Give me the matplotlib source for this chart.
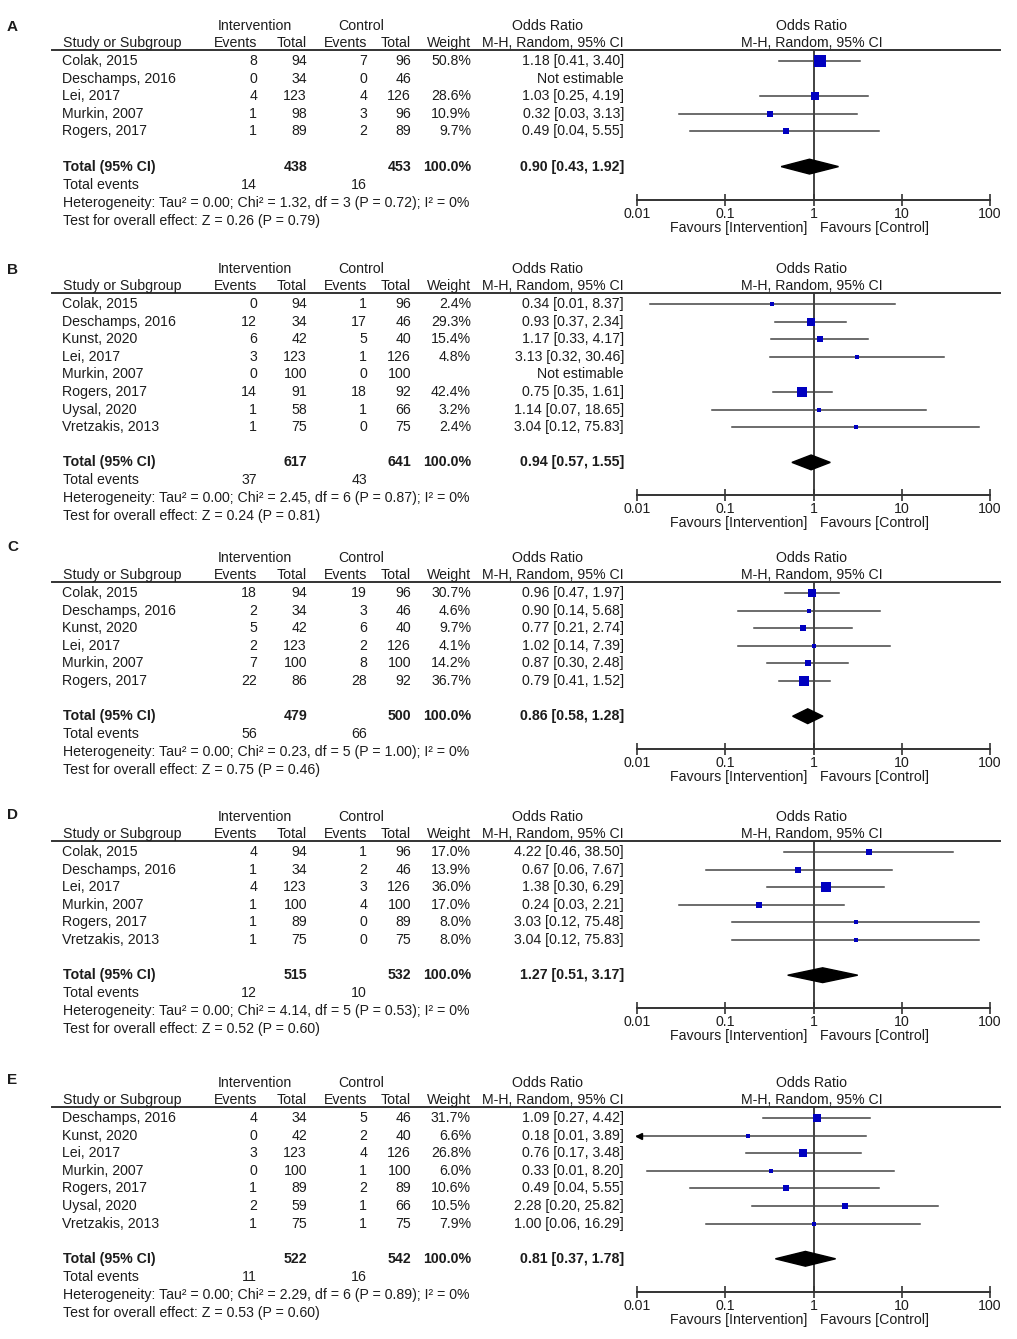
import numpy as np
import matplotlib
matplotlib.use('Agg')
import matplotlib.pyplot as plt

plt.rcParams['font.family'] = ['Liberation Sans', 'DejaVu Sans']

# ---------------- data ----------------
# panel A
a_studies = ['Colak, 2015', 'Deschamps, 2016', 'Lei, 2017', 'Murkin, 2007', 'Rogers, 2017']
a_int_ev = [8, 0, 4, 1, 1]
a_int_n = [94, 34, 123, 98, 89]
a_ctl_ev = [7, 0, 4, 3, 2]
a_ctl_n = [96, 46, 126, 96, 89]
a_weight = [50.8, None, 28.6, 10.9, 9.7]
a_or = [1.18, None, 1.03, 0.32, 0.49]
a_lo = [0.41, None, 0.25, 0.03, 0.04]
a_hi = [3.40, None, 4.19, 3.13, 5.55]
a_total = [438, 453, 0.90, 0.43, 1.92]
a_events = [14, 16]
a_het = ['0.00', '1.32', 3, '0.72', 0]
a_test = ['0.26', '0.79']

# panel B
b_studies = ['Colak, 2015', 'Deschamps, 2016', 'Kunst, 2020', 'Lei, 2017', 'Murkin, 2007',
             'Rogers, 2017', 'Uysal, 2020', 'Vretzakis, 2013']
b_int_ev = [0, 12, 6, 3, 0, 14, 1, 1]
b_int_n = [94, 34, 42, 123, 100, 91, 58, 75]
b_ctl_ev = [1, 17, 5, 1, 0, 18, 1, 0]
b_ctl_n = [96, 46, 40, 126, 100, 92, 66, 75]
b_weight = [2.4, 29.3, 15.4, 4.8, None, 42.4, 3.2, 2.4]
b_or = [0.34, 0.93, 1.17, 3.13, None, 0.75, 1.14, 3.04]
b_lo = [0.014, 0.37, 0.33, 0.32, None, 0.35, 0.07, 0.12]
b_hi = [8.37, 2.34, 4.17, 30.46, None, 1.61, 18.65, 75.83]
b_total = [617, 641, 0.94, 0.57, 1.55]
b_events = [37, 43]
b_het = ['0.00', '2.45', 6, '0.87', 0]
b_test = ['0.24', '0.81']

# panel C
c_studies = ['Colak, 2015', 'Deschamps, 2016', 'Kunst, 2020', 'Lei, 2017', 'Murkin, 2007',
             'Rogers, 2017']
c_int_ev = [18, 2, 5, 2, 7, 22]
c_int_n = [94, 34, 42, 123, 100, 86]
c_ctl_ev = [19, 3, 6, 2, 8, 28]
c_ctl_n = [96, 46, 40, 126, 100, 92]
c_weight = [30.7, 4.6, 9.7, 4.1, 14.2, 36.7]
c_or = [0.96, 0.90, 0.77, 1.02, 0.87, 0.79]
c_lo = [0.47, 0.14, 0.21, 0.14, 0.30, 0.41]
c_hi = [1.97, 5.68, 2.74, 7.39, 2.48, 1.52]
c_total = [479, 500, 0.86, 0.58, 1.28]
c_events = [56, 66]
c_het = ['0.00', '0.23', 5, '1.00', 0]
c_test = ['0.75', '0.46']

# panel D
d_studies = ['Colak, 2015', 'Deschamps, 2016', 'Lei, 2017', 'Murkin, 2007', 'Rogers, 2017',
             'Vretzakis, 2013']
d_int_ev = [4, 1, 4, 1, 1, 1]
d_int_n = [94, 34, 123, 100, 89, 75]
d_ctl_ev = [1, 2, 3, 4, 0, 0]
d_ctl_n = [96, 46, 126, 100, 89, 75]
d_weight = [17.0, 13.9, 36.0, 17.0, 8.0, 8.0]
d_or = [4.22, 0.67, 1.38, 0.24, 3.03, 3.04]
d_lo = [0.46, 0.06, 0.30, 0.03, 0.12, 0.12]
d_hi = [38.50, 7.67, 6.29, 2.21, 75.48, 75.83]
d_total = [515, 532, 1.27, 0.51, 3.17]
d_events = [12, 10]
d_het = ['0.00', '4.14', 5, '0.53', 0]
d_test = ['0.52', '0.60']

# panel E
e_studies = ['Deschamps, 2016', 'Kunst, 2020', 'Lei, 2017', 'Murkin, 2007', 'Rogers, 2017',
             'Uysal, 2020', 'Vretzakis, 2013']
e_int_ev = [4, 0, 3, 0, 1, 2, 1]
e_int_n = [34, 42, 123, 100, 89, 59, 75]
e_ctl_ev = [5, 2, 4, 1, 2, 1, 1]
e_ctl_n = [46, 40, 126, 100, 89, 66, 75]
e_weight = [31.7, 6.6, 26.8, 6.0, 10.6, 10.5, 7.9]
e_or = [1.09, 0.18, 0.76, 0.33, 0.49, 2.28, 1.00]
e_lo = [0.27, 0.008, 0.17, 0.013, 0.04, 0.20, 0.06]
e_hi = [4.42, 3.89, 3.48, 8.20, 5.55, 25.82, 16.29]
e_total = [522, 542, 0.81, 0.37, 1.78]
e_events = [11, 16]
e_het = ['0.00', '2.29', 6, '0.89', 0]
e_test = ['0.53', '0.60']

panels = [
    ('A', a_studies, a_int_ev, a_int_n, a_ctl_ev, a_ctl_n, a_weight, a_or, a_lo, a_hi,
     a_total, a_events, a_het, a_test),
    ('B', b_studies, b_int_ev, b_int_n, b_ctl_ev, b_ctl_n, b_weight, b_or, b_lo, b_hi,
     b_total, b_events, b_het, b_test),
    ('C', c_studies, c_int_ev, c_int_n, c_ctl_ev, c_ctl_n, c_weight, c_or, c_lo, c_hi,
     c_total, c_events, c_het, c_test),
    ('D', d_studies, d_int_ev, d_int_n, d_ctl_ev, d_ctl_n, d_weight, d_or, d_lo, d_hi,
     d_total, d_events, d_het, d_test),
    ('E', e_studies, e_int_ev, e_int_n, e_ctl_ev, e_ctl_n, e_weight, e_or, e_lo, e_hi,
     e_total, e_events, e_het, e_test),
]

# ---------------- layout (pixels) ----------------
W, H = 1017, 1339
line_y = [50, 293, 582, 841, 1107]     # header rule of each panel
letter_y = [27, 270, 547, 815, 1080]
step = 17.6
plot_l, plot_r = 637, 990
TXT = '#1c1c1c'
FS = 10.2
BLUE = '#0000c0'

fig = plt.figure(figsize=(W / 100, H / 100), dpi=100)
bg = fig.add_axes([0, 0, 1, 1])
bg.set_xlim(0, W)
bg.set_ylim(H, 0)
bg.axis('off')


def T(x, y, s, ha='left', bold=False, size=FS):
    bg.text(x, y, s, ha=ha, va='center', fontsize=size, color=TXT,
            fontweight='bold' if bold else 'normal')


for k, p in enumerate(panels):
    (letter, studies, iev, inn, cev, cnn, wt, est, lo, hi,
     tot, tev, het, test) = p
    L = line_y[k]
    n = len(studies)
    y0 = L + 11
    y_tot = y0 + step * (n + 1)
    y_axis = y_tot + 33

    # headers
    T(7, letter_y[k], letter, bold=True, size=11)
    T(255, L - 24, 'Intervention', ha='center')
    T(361, L - 24, 'Control', ha='center')
    T(548, L - 24, 'Odds Ratio', ha='center')
    T(812, L - 24, 'Odds Ratio', ha='center')
    T(63, L - 7, 'Study or Subgroup')
    T(257, L - 7, 'Events', ha='right')
    T(307, L - 7, 'Total', ha='right')
    T(367, L - 7, 'Events', ha='right')
    T(411, L - 7, 'Total', ha='right')
    T(471, L - 7, 'Weight', ha='right')
    T(624, L - 7, 'M-H, Random, 95% CI', ha='right')
    T(812, L - 7, 'M-H, Random, 95% CI', ha='center')
    bg.plot([52, 1000], [L, L], color='#333333', lw=1.4)

    # study rows
    for i in range(n):
        y = y0 + step * i
        T(62, y, studies[i])
        T(257, y, str(iev[i]), ha='right')
        T(307, y, str(inn[i]), ha='right')
        T(367, y, str(cev[i]), ha='right')
        T(411, y, str(cnn[i]), ha='right')
        if wt[i] is None:
            T(624, y, 'Not estimable', ha='right')
        else:
            T(471, y, f'{wt[i]:.1f}%', ha='right')
            T(624, y, f'{est[i]:.2f} [{lo[i]:.2f}, {hi[i]:.2f}]', ha='right')

    # totals
    T(63, y_tot, 'Total (95% CI)', bold=True)
    T(307, y_tot, str(tot[0]), ha='right', bold=True)
    T(411, y_tot, str(tot[1]), ha='right', bold=True)
    T(471, y_tot, '100.0%', ha='right', bold=True)
    T(624, y_tot, f'{tot[2]:.2f} [{tot[3]:.2f}, {tot[4]:.2f}]', ha='right', bold=True)
    T(63, y_tot + 18, 'Total events')
    T(257, y_tot + 18, str(tev[0]), ha='right')
    T(367, y_tot + 18, str(tev[1]), ha='right')
    T(63, y_tot + 36, f'Heterogeneity: Tau² = {het[0]}; Chi² = {het[1]}, df = {het[2]} '
                      f'(P = {het[3]}); I² = {het[4]}%')
    T(63, y_tot + 54, f'Test for overall effect: Z = {test[0]} (P = {test[1]})')
    T(807, y_axis + 28, 'Favours [Intervention]', ha='right')
    T(820, y_axis + 28, 'Favours [Control]')

    # forest plot
    ax = fig.add_axes([plot_l / W, 1 - y_axis / H, (plot_r - plot_l) / W, (y_axis - L) / H])
    ax.patch.set_alpha(0)
    ax.set_xscale('log')
    ax.set_xlim(0.01, 100)
    ax.set_ylim((y_axis - y0) / step, (L - y0) / step)
    for s in ['top', 'left', 'right']:
        ax.spines[s].set_visible(False)
    ax.spines['bottom'].set_color('#333333')
    ax.spines['bottom'].set_linewidth(1.4)
    ax.set_yticks([])
    ax.set_xticks([0.01, 0.1, 1, 10, 100])
    ax.set_xticklabels(['0.01', '0.1', '1', '10', '100'])
    ax.minorticks_off()
    ax.tick_params(axis='x', direction='inout', length=8, width=1.2, color='#333333',
                   labelsize=FS, labelcolor=TXT, pad=1)
    ax.axvline(1, color='#333333', lw=1.3, zorder=1)

    for i in range(n):
        if wt[i] is None:
            continue
        left = max(lo[i], 0.01)
        ax.plot([left, hi[i]], [i, i], color='#444444', lw=1.1, zorder=2, clip_on=False)
        if lo[i] < 0.01:
            ax.plot([0.0105], [i], marker='<', ms=5, color='black', clip_on=False, zorder=3)
        side = 0.17 * wt[i] + 3.5
        ax.plot([est[i]], [i], marker='s', ms=side * 0.72, color=BLUE, mec=BLUE,
                mew=0, zorder=4, clip_on=False)

    t = n + 1
    ax.fill([tot[3], tot[2], tot[4], tot[2]], [t, t - 0.42, t, t + 0.42],
            color='black', zorder=4)

fig.savefig('out.png', dpi=100)
